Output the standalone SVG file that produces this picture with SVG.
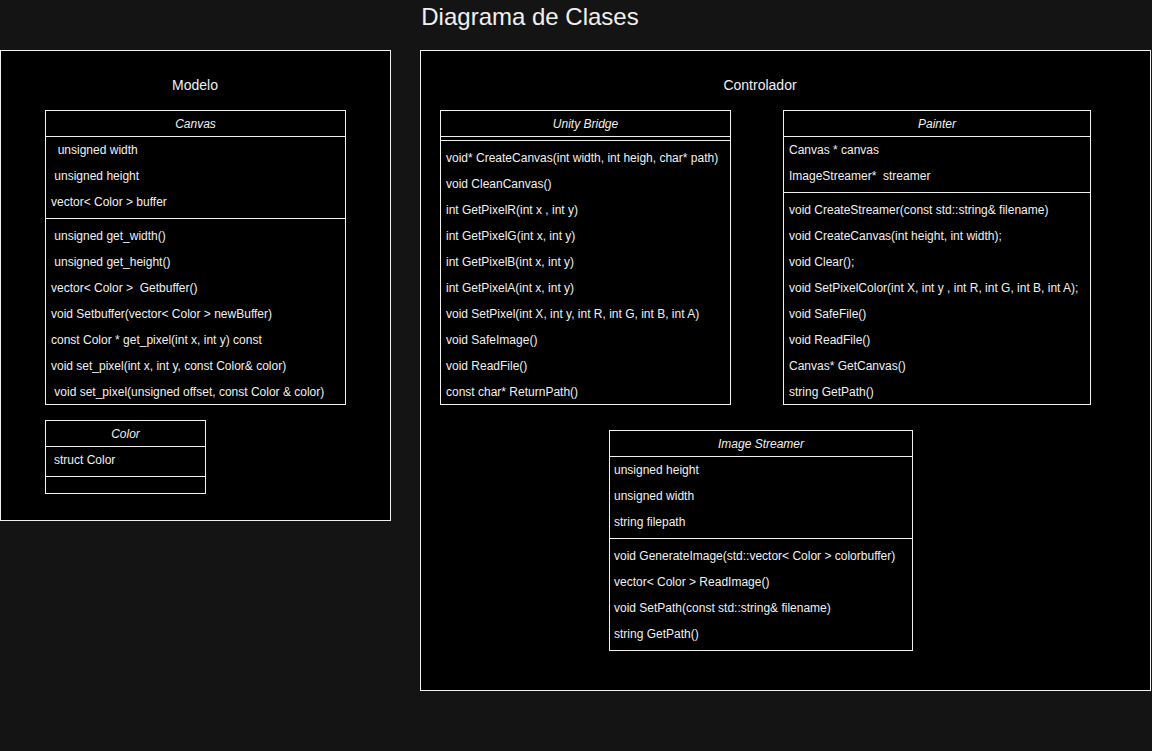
<svg xmlns="http://www.w3.org/2000/svg" width="1152" height="751" viewBox="0 0 1152 751">
<style>
.bg{fill:#141414}
.box{fill:#000;stroke:#f0f0f0;stroke-width:1}
.ln{stroke:#f0f0f0;stroke-width:1;fill:none}
text{font-family:"Liberation Sans",Arial,sans-serif;fill:#f0f0f0;font-size:12px}
.hd{font-style:italic;text-anchor:middle}
.ct{font-size:14px;text-anchor:middle}
.title{font-size:24px;text-anchor:middle}
</style>
<rect class="bg" x="0" y="0" width="1152" height="751"/>
<text class="title" x="530" y="25">Diagrama de Clases</text>

<g id="modelo">
<rect class="box" x="0.5" y="50.5" width="390" height="470"/>
<text class="ct" x="195" y="90">Modelo</text>
</g>
<g id="controlador">
<rect class="box" x="420.5" y="50.5" width="730" height="640"/>
<text class="ct" x="760" y="90">Controlador</text>
</g>

<g id="canvas">
<rect class="box" x="45.5" y="110.5" width="300" height="294"/>
<line class="ln" x1="45.5" y1="136.5" x2="345.5" y2="136.5"/>
<line class="ln" x1="45.5" y1="218.5" x2="345.5" y2="218.5"/>
<text class="hd" x="195.5" y="128">Canvas</text>
<text x="51" y="154" xml:space="preserve">  unsigned width</text>
<text x="51" y="180" xml:space="preserve"> unsigned height</text>
<text x="51" y="206">vector&lt; Color &gt; buffer</text>
<text x="51" y="240" xml:space="preserve"> unsigned get_width()</text>
<text x="51" y="266" xml:space="preserve"> unsigned get_height()</text>
<text x="51" y="292" xml:space="preserve">vector&lt; Color &gt;  Getbuffer()</text>
<text x="51" y="318">void Setbuffer(vector&lt; Color &gt; newBuffer)</text>
<text x="51" y="344">const Color * get_pixel(int x, int y) const</text>
<text x="51" y="370">void set_pixel(int x, int y, const Color&amp; color)</text>
<text x="51" y="396" xml:space="preserve"> void set_pixel(unsigned offset, const Color &amp; color)</text>
</g>

<g id="color">
<rect class="box" x="45.5" y="420.5" width="160" height="73"/>
<line class="ln" x1="45.5" y1="446.5" x2="205.5" y2="446.5"/>
<line class="ln" x1="45.5" y1="476.5" x2="205.5" y2="476.5"/>
<text class="hd" x="125.5" y="438">Color</text>
<text x="54" y="464">struct Color</text>
</g>

<g id="unity-bridge">
<rect class="box" x="440.5" y="110.5" width="290" height="294"/>
<line class="ln" x1="440.5" y1="136.5" x2="730.5" y2="136.5"/>
<line class="ln" x1="440.5" y1="140.5" x2="730.5" y2="140.5"/>
<text class="hd" x="585.5" y="128">Unity Bridge</text>
<text x="446" y="162">void* CreateCanvas(int width, int heigh, char* path)</text>
<text x="446" y="188">void CleanCanvas()</text>
<text x="446" y="214">int GetPixelR(int x , int y)</text>
<text x="446" y="240">int GetPixelG(int x, int y)</text>
<text x="446" y="266">int GetPixelB(int x, int y)</text>
<text x="446" y="292">int GetPixelA(int x, int y)</text>
<text x="446" y="318">void SetPixel(int X, int y, int R, int G, int B, int A)</text>
<text x="446" y="344">void SafeImage()</text>
<text x="446" y="370">void ReadFile()</text>
<text x="446" y="396">const char* ReturnPath()</text>
</g>

<g id="painter">
<rect class="box" x="783.5" y="110.5" width="307" height="294"/>
<line class="ln" x1="783.5" y1="136.5" x2="1090.5" y2="136.5"/>
<line class="ln" x1="783.5" y1="192.5" x2="1090.5" y2="192.5"/>
<text class="hd" x="937" y="128">Painter</text>
<text x="789" y="154">Canvas * canvas</text>
<text x="789" y="180" xml:space="preserve">ImageStreamer*  streamer</text>
<text x="789" y="214">void CreateStreamer(const std::string&amp; filename)</text>
<text x="789" y="240">void CreateCanvas(int height, int width);</text>
<text x="789" y="266">void Clear();</text>
<text x="789" y="292">void SetPixelColor(int X, int y , int R, int G, int B, int A);</text>
<text x="789" y="318">void SafeFile()</text>
<text x="789" y="344">void ReadFile()</text>
<text x="789" y="370">Canvas* GetCanvas()</text>
<text x="789" y="396">string GetPath()</text>
</g>

<g id="image-streamer">
<rect class="box" x="609.5" y="430.5" width="303" height="220"/>
<line class="ln" x1="609.5" y1="456.5" x2="912.5" y2="456.5"/>
<line class="ln" x1="609.5" y1="538.5" x2="912.5" y2="538.5"/>
<text class="hd" x="761" y="448">Image Streamer</text>
<text x="614" y="474">unsigned height</text>
<text x="614" y="500">unsigned width</text>
<text x="614" y="526">string filepath</text>
<text x="614" y="560">void GenerateImage(std::vector&lt; Color &gt; colorbuffer)</text>
<text x="614" y="586">vector&lt; Color &gt; ReadImage()</text>
<text x="614" y="612">void SetPath(const std::string&amp; filename)</text>
<text x="614" y="638">string GetPath()</text>
</g>

<g id="connectors"></g>
</svg>
